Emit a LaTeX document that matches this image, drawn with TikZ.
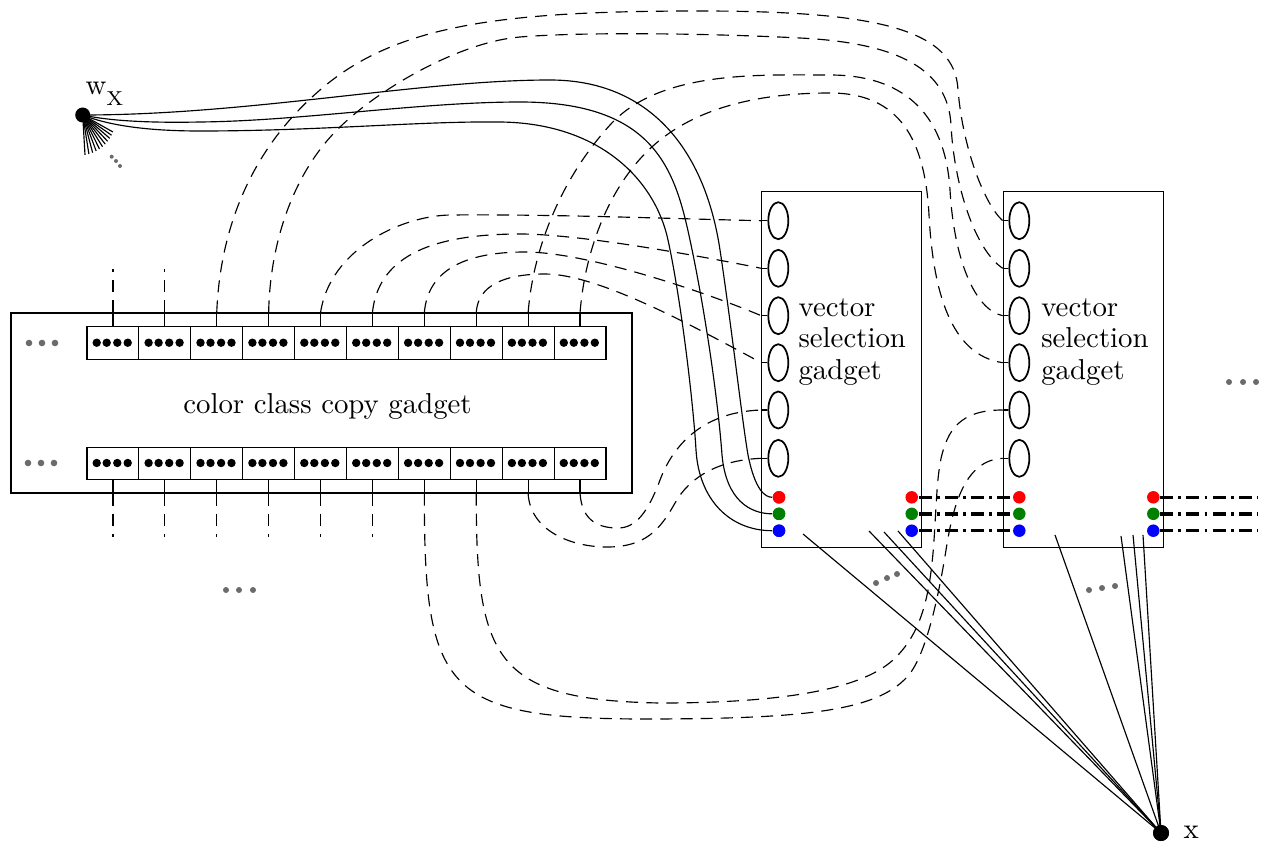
\documentclass[tikz,border=0pt]{standalone}
\usetikzlibrary{shapes.geometric}
\definecolor{dotgray}{gray}{0.42}
\definecolor{termgreen}{rgb}{0,0.5,0}
\newcommand\pxu{0.3472pt}
\begin{document}
\begin{tikzpicture}[
  x=0.3472pt, y=-0.3472pt,
  font=\fontsize{10}{10.9}\selectfont,
  gadgetbox/.style={draw, inner sep=0pt, minimum width=160*\pxu, minimum height=356*\pxu},
  cellbox/.style={draw, inner sep=0pt, minimum width=51.9*\pxu, minimum height=32.5*\pxu},
  port/.style={draw, semithick, ellipse, inner sep=0pt, minimum width=20*\pxu, minimum height=37*\pxu},
  terminal/.style={circle, inner sep=0pt, minimum size=12.5*\pxu, fill=#1},
  hub/.style={circle, fill=black, inner sep=0pt, minimum size=#1*\pxu},
  link/.style={dash pattern=on 4.2pt off 2.8pt},
  bus/.style={line width=1.2pt, dash pattern=on 4.5pt off 1.8pt on 1pt off 1.8pt},
]
\useasboundingbox (0,0) rectangle (1270,844);

% ---------------- color class copy gadget ----------------
\node[draw, inner sep=0pt, minimum width=621*\pxu, minimum height=180*\pxu] (ccg) at (321.5,403) {};
\node[anchor=base] (ccgl) at (327.5,413) {color class copy gadget};
\foreach \i in {1,...,10} {
  \node[cellbox] (t\i) at ({87+51.9*(\i-0.5)},343) {};
  \node[cellbox] (b\i) at ({87+51.9*(\i-0.5)},463.5) {};
  \foreach \d in {-16.25,-6.25,4.35,14.75} {
    \fill ({87+51.9*(\i-0.5)+\d},342.7) circle[radius=4.2*\pxu];
    \fill ({87+51.9*(\i-0.5)+\d},463) circle[radius=4.2*\pxu];
  }
  \draw (t\i.north) -- (t\i.north |- ccg.north) coordinate (tt\i);
  \draw (b\i.south) -- (b\i.south |- ccg.south) coordinate (bb\i);
}

% ---------------- vector selection gadgets ----------------
\node[gadgetbox] (v1) at (841.85,369.7) {};
\node[gadgetbox] (v2) at (1083.3,369.7) {};
\foreach \k/\y in {1/220.7,2/268.3,3/315.7,4/362.7,5/410,6/458.3} {
  \node[port] (pa\k) at (778.3,\y) {};
  \node[port] (pb\k) at (1019.3,\y) {};
  \draw (pa\k.west) -- (pa\k.west -| v1.west) coordinate (qa\k);
  \draw (pb\k.west) -- (pb\k.west -| v2.west) coordinate (qb\k);
}
\node[anchor=base west, align=left, inner sep=0pt] (v1l) at (798,379.3) {vector\\selection\\gadget};
\node[anchor=base west, align=left, inner sep=0pt] (v2l) at (1040.7,379.3) {vector\\selection\\gadget};

% ---------------- hubs ----------------
\node[hub=15] (wx) at (82.7,115) {};
\node[anchor=base west, inner sep=0pt] (wxl) at (85,95) {w\raisebox{-3.5pt}{\scriptsize X}};
\node[hub=16] (xv) at (1161,833) {};
\node[anchor=base west, inner sep=0pt] (xvl) at (1183,838) {x};

% fan of edges leaving w_X
\foreach \i in {0,...,10}
  \draw (wx.center) -- ++({86.7-5.74*\i}:{40-0.53*\i});

% ---------------- dashed stubs ----------------
\foreach \i in {1,2}
  \draw[link] (tt\i) -- ++(0,-43) coordinate (te\i);
\foreach \i in {1,...,6}
  \draw[link] (bb\i) -- ++(0,43) coordinate (be\i);

% ---------------- long dashed connectors ----------------
% top cells 3,4 -> second gadget, ports 1,2
\draw[link] (tt3) .. controls (220,230) and (250,150) .. (320,90)
  .. controls (395,25) and (500,11) .. (700,11)
  .. controls (880,11) and (955,30) .. (958,90)
  .. controls (963,150) and (985,205) .. (qb1);
\draw[link] (tt4) .. controls (270,240) and (295,170) .. (340,127)
  .. controls (380,88) and (460,42) .. (520,37)
  .. controls (580,32) and (700,33) .. (800,38)
  .. controls (900,43) and (948,70) .. (951,125)
  .. controls (954,185) and (975,250) .. (qb2);
% top cells 9,10 -> second gadget, ports 3,4
\draw[link] (tt9) .. controls (533,250) and (560,180) .. (610,125)
  .. controls (660,70) and (760,75) .. (830,75)
  .. controls (900,75) and (945,110) .. (950,190)
  .. controls (954,260) and (975,310) .. (qb3);
\draw[link] (tt10) .. controls (585,250) and (610,180) .. (660,140)
  .. controls (710,100) and (780,93) .. (830,93)
  .. controls (900,93) and (925,140) .. (929,215)
  .. controls (933,290) and (950,355) .. (qb4);
% top cells 5..8 -> first gadget, ports 1..4
\draw[link] (tt5) .. controls (330,250) and (400,216) .. (450,215)
  .. controls (550,214) and (680,219) .. (qa1);
\draw[link] (tt6) .. controls (378,260) and (425,234) .. (520,234)
  .. controls (580,234) and (700,256) .. (qa2);
\draw[link] (tt7) .. controls (428,270) and (465,252) .. (525,252)
  .. controls (585,252) and (700,290) .. (qa3);
\draw[link] (tt8) .. controls (478,285) and (505,274) .. (545,274)
  .. controls (600,274) and (700,330) .. (qa4);
% bottom cells 9,10 -> first gadget, ports 6,5
\draw[link] (bb10) .. controls (582,522) and (600,528) .. (618,528)
  .. controls (636,528) and (648,512) .. (660,480)
  .. controls (672,448) and (700,412) .. (qa5);
\draw[link] (bb9) .. controls (530,530) and (570,547) .. (607,547)
  .. controls (645,547) and (660,530) .. (675,503)
  .. controls (690,476) and (720,460) .. (qa6);
% bottom cells 7,8 -> second gadget, ports 6,5
\draw[link] (bb8) .. controls (476,660) and (495,700) .. (660,703)
  .. controls (780,703) and (860,690) .. (893,660)
  .. controls (920,635) and (930,600) .. (934,540)
  .. controls (937,495) and (937,465) .. (945,445)
  .. controls (955,415) and (980,410) .. (qb5);
\draw[link] (bb7) .. controls (424,690) and (445,718) .. (640,719)
  .. controls (800,719) and (875,712) .. (907,677)
  .. controls (925,658) and (938,600) .. (946,550)
  .. controls (953,505) and (965,460) .. (qb6);

% ---------------- terminals ----------------
\foreach \n/\c/\y in {r/red/497.3, g/termgreen/513.8, b/blue/530.7} {
  \node[terminal=\c] (\n L1) at (779,\y) {};
  \node[terminal=\c] (\n R1) at (911.7,\y) {};
  \node[terminal=\c] (\n L2) at (1019.3,\y) {};
  \node[terminal=\c] (\n R2) at (1153.3,\y) {};
  \coordinate (\n E) at (1257,\y);
  \draw[bus] (\n R1) -- (\n L2);
  \draw[bus] (\n R2) -- (\n E);
}

% ---------------- solid wires from w_X ----------------
\draw (wx.center) .. controls (250,115) and (420,80) .. (550,80)
  .. controls (650,80) and (705,150) .. (720,250)
  .. controls (732,330) and (742,420) .. (748,455)
  .. controls (755,490) and (765,497.3) .. (rL1);
\draw (wx.center) .. controls (110,121) and (150,123) .. (200,122)
  .. controls (300,121) and (420,102) .. (520,102)
  .. controls (655,102) and (675,170) .. (690,240)
  .. controls (705,310) and (718,400) .. (722,455)
  .. controls (726,500) and (750,513.8) .. (gL1);
\draw (wx.center) .. controls (110,126) and (150,131) .. (200,131)
  .. controls (320,131) and (420,121) .. (500,122)
  .. controls (600,123) and (655,180) .. (668,240)
  .. controls (681,300) and (693,400) .. (696,450)
  .. controls (699,500) and (730,530.7) .. (bL1);

% ---------------- edges into x ----------------
\foreach \sx/\sy [count=\j] in {803/534, 869/531, 884/532, 898/531, 1055/535, 1121/536, 1133/535, 1143/535} {
  \coordinate (s\j) at (\sx,\sy);
  \draw (s\j) -- (xv.center);
}
\node[hub=16] at (xv) {};

% redraw terminals on top of the wires
\foreach \n/\c in {r/red, g/termgreen, b/blue}
  \node[terminal=\c] at (\n L1) {};

% ---------------- ellipsis marks ----------------
\foreach \p in {(29,343),(42,343),(55,343),(28,463),(41,463),(54,463)}
  \fill[dotgray] \p circle[radius=3.3*\pxu];
\foreach \p in {(226,590),(239,590),(253,590),(1229,382),(1243,382),(1256,382),(876,583),(887,578),(897,574),(1089,590),(1102,588),(1115,586)}
  \fill[dotgray] \p circle[radius=3*\pxu];
\foreach \p in {(111.7,156.7),(116,161),(120,166)}
  \fill[dotgray] \p circle[radius=2*\pxu];
\end{tikzpicture}
\end{document}
